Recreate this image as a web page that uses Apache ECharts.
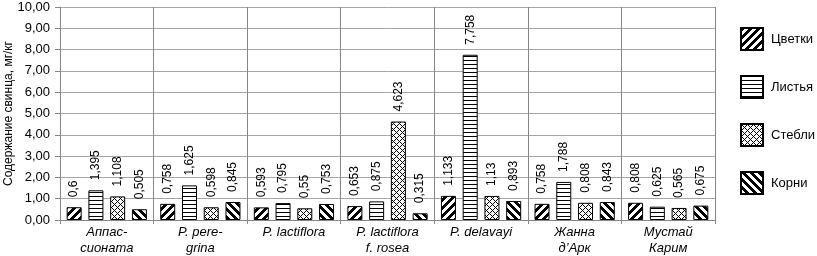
<!DOCTYPE html>
<html><head><meta charset="utf-8">
<script src="https://cdn.jsdelivr.net/npm/echarts@6/dist/echarts.min.js"></script>
<style>html,body{margin:0;padding:0;background:#fff}#c{width:817px;height:256px}</style>
</head><body><div id="c"></div>
<script>
const categories = ['Аппас-\nсионата','P. pere-\ngrina','P. lactiflora','P. lactiflora\nf. rosea','P. delavayi','Жанна\nд’Арк','Мустай\nКарим'];
const seriesNames = ['Цветки','Листья','Стебли','Корни'];
const flowers = [0.6, 0.758, 0.593, 0.653, 1.133, 0.758, 0.808];
const leaves  = [1.395, 1.625, 0.795, 0.875, 7.758, 1.788, 0.625];
const stems   = [1.108, 0.598, 0.55, 4.623, 1.13, 0.808, 0.565];
const roots   = [0.505, 0.845, 0.753, 0.315, 0.893, 0.843, 0.675];
const yTicks = [0,1,2,3,4,5,6,7,8,9,10];

function makePattern(kind){
  const s = (kind==='horiz') ? 4 : (kind==='cross' ? 6 : 8);
  const c = document.createElement('canvas');
  c.width = s; c.height = s;
  const g = c.getContext('2d');
  g.fillStyle = '#fff'; g.fillRect(0,0,s,s);
  g.fillStyle = '#000';
  for(let y=0;y<s;y++){
    for(let x=0;x<s;x++){
      let on = false;
      if(kind==='fwd') on = ((x+y)%s) < 4;
      else if(kind==='back') on = (((x-y)%s+s)%s) < 4;
      else if(kind==='horiz') on = (y===0);
      else on = ((x+y)%s===0) || (((x-y)%s+s)%s===0);
      if(on) g.fillRect(x,y,1,1);
    }
  }
  return {image: c, repeat: 'repeat'};
}
const patterns = [makePattern('fwd'), makePattern('horiz'), makePattern('cross'), makePattern('back')];
const dataSets = [flowers, leaves, stems, roots];
const fmt = v => String(v).replace('.', ',');
const FONT = 'Liberation Sans, Arial, sans-serif';

const chart = echarts.init(document.getElementById('c'), null, {renderer:'canvas'});
chart.setOption({
  animation: false,
  grid: {left: 60, right: 102, top: 7, bottom: 36, containLabel: false, outerBoundsMode: 'none'},
  legend: {
    orient: 'vertical', left: 735, top: 22,
    itemWidth: 22, itemHeight: 22, itemGap: 24,
    icon: 'rect',
    textStyle: {fontFamily: FONT, fontSize: 13, color: '#000', padding: [0,0,0,3]},
    data: seriesNames
  },
  xAxis: {
    type: 'category', data: categories,
    axisLine: {lineStyle: {color: '#868686'}},
    axisTick: {show: true, length: 4, lineStyle: {color: '#868686'}},
    splitLine: {show: true, lineStyle: {color: '#868686', width: 1}},
    axisLabel: {fontFamily: FONT, fontSize: 13, fontStyle: 'italic', color: '#000', lineHeight: 16, margin: 4}
  },
  yAxis: {
    type: 'value', min: 0, max: 10, interval: 1,
    name: 'Содержание свинца, мг/кг', nameLocation: 'middle', nameGap: 45, nameMoveOverlap: false,
    nameTextStyle: {fontFamily: FONT, fontSize: 12, color: '#000'},
    axisLine: {show: true, lineStyle: {color: '#868686'}},
    axisTick: {show: true, length: 5, lineStyle: {color: '#868686'}},
    splitLine: {lineStyle: {color: '#a6a6a6'}},
    axisLabel: {fontFamily: FONT, fontSize: 13, color: '#000', margin: 10,
      formatter: v => (yTicks.includes(v) ? v.toFixed(2).replace('.', ',') : '')}
  },
  series: seriesNames.map((n,i)=>({
    name: n, type: 'bar', data: dataSets[i],
    barWidth: 15, barGap: '45%',
    itemStyle: {color: patterns[i], borderColor: '#000', borderWidth: 1},
    label: {show: true, position: 'top', rotate: 90, align: 'left', verticalAlign: 'middle', distance: 10,
      fontFamily: FONT, fontSize: 12, color: '#000', formatter: p => fmt(p.value)}
  }))
});
</script></body></html>
